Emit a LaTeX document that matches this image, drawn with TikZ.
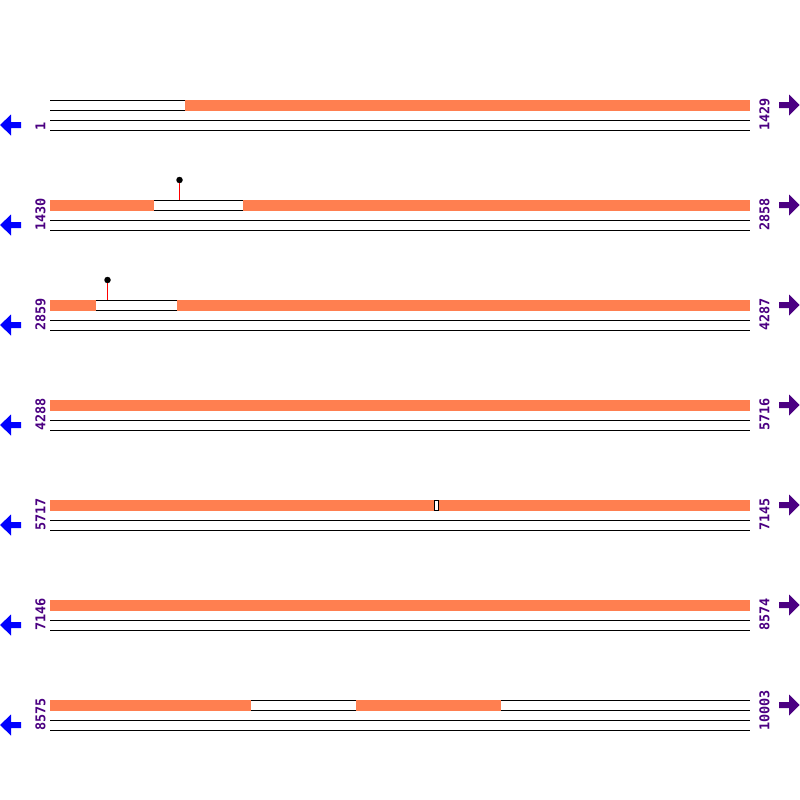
\documentclass[tikz,border=0pt]{standalone}
\usepackage{fontspec}
\newfontfamily\numfont{DejaVu Sans Mono}
\definecolor{coral}{RGB}{255,127,80}
\definecolor{numpurple}{RGB}{75,0,130}
\begin{document}
\begin{tikzpicture}[x=1pt,y=-1pt,
  seqline/.style={black,line width=1pt},
  band/.style={fill=coral,draw=none},
  gapbox/.style={fill=white,draw=black,line width=0.8pt},
  numlbl/.style={rotate=90,anchor=west,inner sep=0pt,text=numpurple,font=\numfont\bfseries\fontsize{13.5}{14}\selectfont},
  larrow/.style={fill=blue,draw=none},
  rarrow/.style={fill=numpurple,draw=none},
  pinstem/.style={red,line width=1pt},
  pinhead/.style={circle,fill=black,inner sep=0pt,minimum size=6.5pt}]
\useasboundingbox[fill=white] (0,0) rectangle (800,800);

% sequence lines and arrows for each row
\foreach \y in {100,200,...,700}{
  \foreach \d in {0,10,20,30}{
    \draw[seqline] (50,\y+\d) -- (750,\y+\d);
  }
  \fill[larrow] (0,\y+25) -- (11,\y+14.5) -- (11,\y+22) -- (21,\y+22) -- (21,\y+28) -- (11,\y+28) -- (11,\y+35.5) -- cycle;
  \fill[rarrow] (799.5,\y+5) -- (789,\y-5.5) -- (789,\y+2) -- (779,\y+2) -- (779,\y+8) -- (789,\y+8) -- (789,\y+15.5) -- cycle;
}

% row 1
\fill[band] (185,99.5) rectangle (750,110.5);
% row 2
\fill[band] (50,199.5) rectangle (153.5,210.5);
\fill[band] (242.5,199.5) rectangle (750,210.5);
% row 3
\fill[band] (50,299.5) rectangle (95.5,310.5);
\fill[band] (177,299.5) rectangle (750,310.5);
% row 4
\fill[band] (50,399.5) rectangle (750,410.5);
% row 5
\fill[band] (50,499.5) rectangle (434,510.5);
\fill[band] (439,499.5) rectangle (750,510.5);
\draw[gapbox] (434.4,500) rectangle (438.6,510);
% row 6
\fill[band] (50,599.5) rectangle (750,610.5);
% row 7
\fill[band] (50,699.5) rectangle (250.5,710.5);
\fill[band] (356,699.5) rectangle (500.5,710.5);

% pins
\node[pinhead] (p1) at (179.5,180) {};
\coordinate (p1b) at (179.5,199.5);
\draw[pinstem] (p1) -- (p1b);
\node[pinhead] (p2) at (107.5,280) {};
\coordinate (p2b) at (107.5,299.5);
\draw[pinstem] (p2) -- (p2b);

% labels
\node[numlbl] (l1) at (40.5,131) {1};
\node[numlbl] (r1) at (764.5,131) {1429};
\node[numlbl] (l2) at (40.5,231) {1430};
\node[numlbl] (r2) at (764.5,231) {2858};
\node[numlbl] (l3) at (40.5,331) {2859};
\node[numlbl] (r3) at (764.5,331) {4287};
\node[numlbl] (l4) at (40.5,431) {4288};
\node[numlbl] (r4) at (764.5,431) {5716};
\node[numlbl] (l5) at (40.5,531) {5717};
\node[numlbl] (r5) at (764.5,531) {7145};
\node[numlbl] (l6) at (40.5,631) {7146};
\node[numlbl] (r6) at (764.5,631) {8574};
\node[numlbl] (l7) at (40.5,731) {8575};
\node[numlbl] (r7) at (764.5,731) {10003};
\end{tikzpicture}
\end{document}
